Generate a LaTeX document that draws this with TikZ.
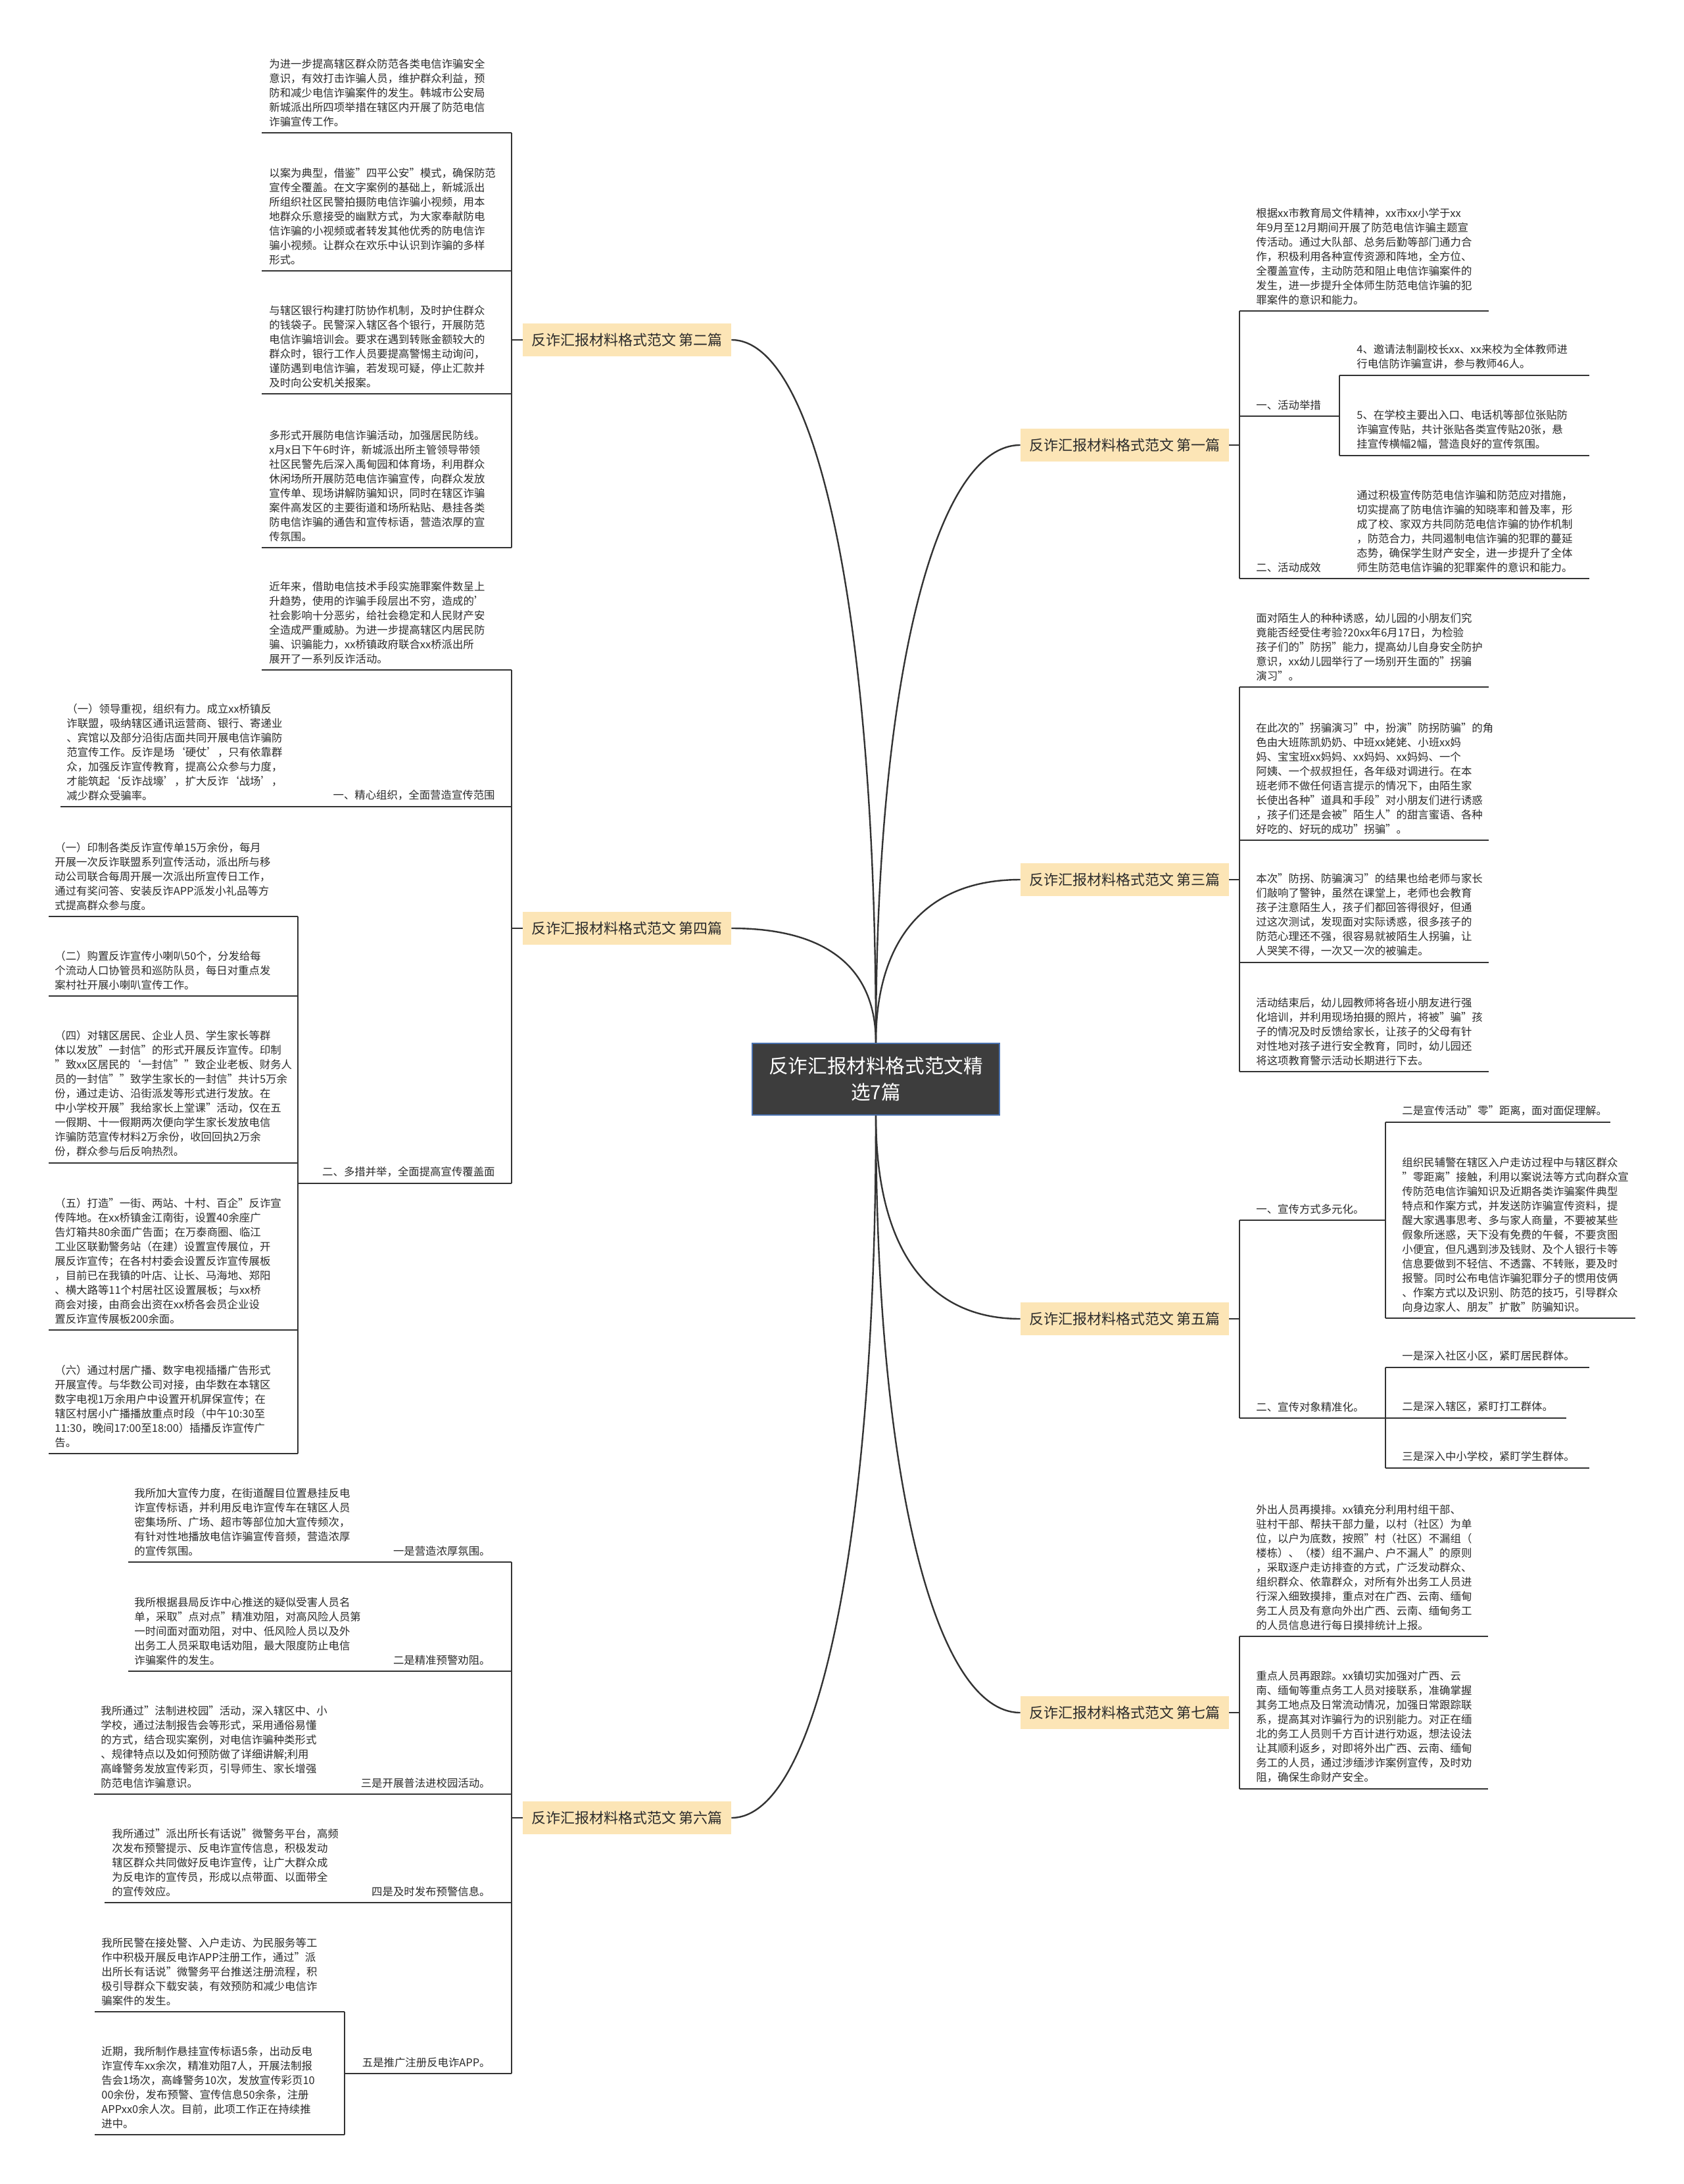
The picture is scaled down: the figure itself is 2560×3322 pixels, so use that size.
\documentclass[tikz,border=0pt]{standalone}
\usepackage{fontspec}
\setmainfont{Noto Sans CJK SC}
\usetikzlibrary{calc}
\definecolor{linec}{HTML}{333333}
\definecolor{txt}{HTML}{2B2B2B}
\definecolor{mainfill}{HTML}{FCE5B6}
\definecolor{rootfill}{HTML}{3D3D3D}
\definecolor{rootedge}{HTML}{4A72B0}
\begin{document}
\begin{tikzpicture}[x=0.5pt,y=-0.5pt,
 leaf/.style={align=left, inner sep=0pt, anchor=south west, font=\fontsize{8.2}{11}\selectfont, text=txt},
 leafr/.style={align=right, inner sep=0pt, anchor=south east, font=\fontsize{8.2}{11}\selectfont, text=txt},
 mainnode/.style={fill=mainfill, draw=none, minimum width=158.5pt, minimum height=25pt, inner sep=0pt, font=\fontsize{11}{13}\selectfont, text=txt},
 root/.style={fill=rootfill, draw=rootedge, line width=0.8pt, minimum width=188pt, minimum height=54.5pt, inner sep=0pt, text=white, align=center, font=\fontsize{14.8}{20}\selectfont},
 conn/.style={draw=linec, line width=1.2pt},
 tree/.style={draw=linec, line width=1pt},
]
\useasboundingbox[fill=white] (0,0) rectangle (2560,3322);

% root
\node[root] (root) at (1332,1641.5) {反诈汇报材料格式范文精\\选7篇};

% main branches
\node[mainnode] (n1) at (1710.5,677) {反诈汇报材料格式范文 第一篇};
\node[mainnode] (n2) at (953.5,517) {反诈汇报材料格式范文 第二篇};
\node[mainnode] (n3) at (1710.5,1338) {反诈汇报材料格式范文 第三篇};
\node[mainnode] (n4) at (953.5,1412) {反诈汇报材料格式范文 第四篇};
\node[mainnode] (n5) at (1710.5,2006) {反诈汇报材料格式范文 第五篇};
\node[mainnode] (n6) at (953.5,2765) {反诈汇报材料格式范文 第六篇};
\node[mainnode] (n7) at (1710.5,2605) {反诈汇报材料格式范文 第七篇};

\draw[conn] (n2.east) .. controls ($(n2.east)+(130,0)$) and ($(root.north)+(0,-650)$) .. (root.north);
\draw[conn] (n4.east) .. controls ($(n4.east)+(150,0)$) and ($(root.north)+(0,-110)$) .. (root.north);
\draw[conn] (n6.east) .. controls ($(n6.east)+(130,0)$) and ($(root.south)+(0,650)$) .. (root.south);
\draw[conn] (root.north) .. controls ($(root.north)+(0,-550)$) and ($(n1.west)+(-130,0)$) .. (n1.west);
\draw[conn] (root.north) .. controls ($(root.north)+(0,-150)$) and ($(n3.west)+(-150,0)$) .. (n3.west);
\draw[conn] (root.south) .. controls ($(root.south)+(0,190)$) and ($(n5.west)+(-150,0)$) .. (n5.west);
\draw[conn] (root.south) .. controls ($(root.south)+(0,550)$) and ($(n7.west)+(-130,0)$) .. (n7.west);

% ================= 第二篇 =================
\draw[tree] (n2.west) -- (778,517);
\draw[tree] (778,202) -- (778,833);
\foreach \yy in {202,412,599,833} \draw[tree] (398,\yy) -- (778,\yy);
\node[leaf] (a1) at (409,193) {为进一步提高辖区群众防范各类电信诈骗安全\\意识，有效打击诈骗人员，维护群众利益，预\\防和减少电信诈骗案件的发生。韩城市公安局\\新城派出所四项举措在辖区内开展了防范电信\\诈骗宣传工作。};
\node[leaf] (a2) at (409,403) {以案为典型，借鉴"四平公安"模式，确保防范\\宣传全覆盖。在文字案例的基础上，新城派出\\所组织社区民警拍摄防电信诈骗小视频，用本\\地群众乐意接受的幽默方式，为大家奉献防电\\信诈骗的小视频或者转发其他优秀的防电信诈\\骗小视频。让群众在欢乐中认识到诈骗的多样\\形式。};
\node[leaf] (a3) at (409,590) {与辖区银行构建打防协作机制，及时护住群众\\的钱袋子。民警深入辖区各个银行，开展防范\\电信诈骗培训会。要求在遇到转账金额较大的\\群众时，银行工作人员要提高警惕主动询问，\\谨防遇到电信诈骗，若发现可疑，停止汇款并\\及时向公安机关报案。};
\node[leaf] (a4) at (409,824) {多形式开展防电信诈骗活动，加强居民防线。\\x月x日下午6时许，新城派出所主管领导带领\\社区民警先后深入禹甸园和体育场，利用群众\\休闲场所开展防范电信诈骗宣传，向群众发放\\宣传单、现场讲解防骗知识，同时在辖区诈骗\\案件高发区的主要街道和场所粘贴、悬挂各类\\防电信诈骗的通告和宣传标语，营造浓厚的宣\\传氛围。};

% ================= 第四篇 =================
\draw[tree] (n4.west) -- (778,1412);
\draw[tree] (778,1019) -- (778,1800);
\draw[tree] (398,1019) -- (778,1019);
\draw[tree] (92,1227) -- (778,1227);
\draw[tree] (453,1800) -- (778,1800);
\draw[tree] (453,1394) -- (453,2211);
\foreach \yy in {1394,1515,1769,2023,2211} \draw[tree] (74,\yy) -- (453,\yy);
\node[leaf] (b1) at (409,1010) {近年来，借助电信技术手段实施罪案件数呈上\\升趋势，使用的诈骗手段层出不穷，造成的'\\社会影响十分恶劣，给社会稳定和人民财产安\\全造成严重威胁。为进一步提高辖区内居民防\\骗、识骗能力，xx桥镇政府联合xx桥派出所\\展开了一系列反诈活动。};
\node[leafr] (b2) at (753,1218) {一、精心组织，全面营造宣传范围};
\node[leaf] (b2c) at (101,1218) {（一）领导重视，组织有力。成立xx桥镇反\\诈联盟，吸纳辖区通讯运营商、银行、寄递业\\、宾馆以及部分沿街店面共同开展电信诈骗防\\范宣传工作。反诈是场‘硬仗’，只有依靠群\\众，加强反诈宣传教育，提高公众参与力度，\\才能筑起‘反诈战壕’，扩大反诈‘战场’，\\减少群众受骗率。};
\node[leafr] (b3) at (753,1791) {二、多措并举，全面提高宣传覆盖面};
\node[leaf] (b31) at (83,1385) {（一）印制各类反诈宣传单15万余份，每月\\开展一次反诈联盟系列宣传活动，派出所与移\\动公司联合每周开展一次派出所宣传日工作，\\通过有奖问答、安装反诈APP派发小礼品等方\\式提高群众参与度。};
\node[leaf] (b32) at (83,1506) {（二）购置反诈宣传小喇叭50个，分发给每\\个流动人口协管员和巡防队员，每日对重点发\\案村社开展小喇叭宣传工作。};
\node[leaf] (b33) at (83,1760) {（四）对辖区居民、企业人员、学生家长等群\\体以发放"一封信"的形式开展反诈宣传。印制\\"致xx区居民的`一封信""致企业老板、财务人\\员的一封信""致学生家长的一封信"共计5万余\\份，通过走访、沿街派发等形式进行发放。在\\中小学校开展"我给家长上堂课"活动，仅在五\\一假期、十一假期两次便向学生家长发放电信\\诈骗防范宣传材料2万余份，收回回执2万余\\份，群众参与后反响热烈。};
\node[leaf] (b34) at (83,2014) {（五）打造"一街、两站、十村、百企"反诈宣\\传阵地。在xx桥镇金江南街，设置40余座广\\告灯箱共80余面广告面；在万泰商圈、临江\\工业区联勤警务站（在建）设置宣传展位，开\\展反诈宣传；在各村村委会设置反诈宣传展板\\，目前已在我镇的叶店、让长、马海地、郑阳\\、横大路等11个村居社区设置展板；与xx桥\\商会对接，由商会出资在xx桥各会员企业设\\置反诈宣传展板200余面。};
\node[leaf] (b35) at (83,2202) {（六）通过村居广播、数字电视插播广告形式\\开展宣传。与华数公司对接，由华数在本辖区\\数字电视1万余用户中设置开机屏保宣传；在\\辖区村居小广播播放重点时段（中午10:30至\\11:30，晚间17:00至18:00）插播反诈宣传广\\告。};

% ================= 第六篇 =================
\draw[tree] (n6.west) -- (778,2765);
\draw[tree] (778,2376) -- (778,3154);
\draw[tree] (195,2376) -- (778,2376);
\draw[tree] (195,2542) -- (778,2542);
\draw[tree] (143,2729) -- (778,2729);
\draw[tree] (159,2894) -- (778,2894);
\draw[tree] (524,3154) -- (778,3154);
\draw[tree] (524,3060) -- (524,3247);
\draw[tree] (144,3060) -- (524,3060);
\draw[tree] (144,3247) -- (524,3247);
\node[leafr] (c1) at (746,2367) {一是营造浓厚氛围。};
\node[leaf] (c1c) at (204,2367) {我所加大宣传力度，在街道醒目位置悬挂反电\\诈宣传标语，并利用反电诈宣传车在辖区人员\\密集场所、广场、超市等部位加大宣传频次，\\有针对性地播放电信诈骗宣传音频，营造浓厚\\的宣传氛围。};
\node[leafr] (c2) at (746,2533) {二是精准预警劝阻。};
\node[leaf] (c2c) at (204,2533) {我所根据县局反诈中心推送的疑似受害人员名\\单，采取"点对点"精准劝阻，对高风险人员第\\一时间面对面劝阻，对中、低风险人员以及外\\出务工人员采取电话劝阻，最大限度防止电信\\诈骗案件的发生。};
\node[leafr] (c3) at (746,2720) {三是开展普法进校园活动。};
\node[leaf] (c3c) at (153,2720) {我所通过"法制进校园"活动，深入辖区中、小\\学校，通过法制报告会等形式，采用通俗易懂\\的方式，结合现实案例，对电信诈骗种类形式\\、规律特点以及如何预防做了详细讲解;利用\\高峰警务发放宣传彩页，引导师生、家长增强\\防范电信诈骗意识。};
\node[leafr] (c4) at (746,2885) {四是及时发布预警信息。};
\node[leaf] (c4c) at (170,2885) {我所通过"派出所长有话说"微警务平台，高频\\次发布预警提示、反电诈宣传信息，积极发动\\辖区群众共同做好反电诈宣传，让广大群众成\\为反电诈的宣传员，形成以点带面、以面带全\\的宣传效应。};
\node[leafr] (c5) at (746,3145) {五是推广注册反电诈APP。};
\node[leaf] (c51) at (154,3051) {我所民警在接处警、入户走访、为民服务等工\\作中积极开展反电诈APP注册工作，通过"派\\出所长有话说"微警务平台推送注册流程，积\\极引导群众下载安装，有效预防和减少电信诈\\骗案件的发生。};
\node[leaf] (c52) at (154,3238) {近期，我所制作悬挂宣传标语5条，出动反电\\诈宣传车xx余次，精准劝阻7人，开展法制报\\告会1场次，高峰警务10次，发放宣传彩页10\\00余份，发布预警、宣传信息50余条，注册\\APPxx0余人次。目前，此项工作正在持续推\\进中。};

% ================= 第一篇 =================
\draw[tree] (n1.east) -- (1885,677);
\draw[tree] (1885,473) -- (1885,880);
\draw[tree] (1885,473) -- (2264,473);
\draw[tree] (1885,633) -- (2037,633);
\draw[tree] (2037,571) -- (2037,693);
\draw[tree] (2037,571) -- (2417,571);
\draw[tree] (2037,693) -- (2417,693);
\draw[tree] (1885,880) -- (2417,880);
\node[leaf] (d1) at (1910,464) {根据xx市教育局文件精神，xx市xx小学于xx\\年9月至12月期间开展了防范电信诈骗主题宣\\传活动。通过大队部、总务后勤等部门通力合\\作，积极利用各种宣传资源和阵地，全方位、\\全覆盖宣传，主动防范和阻止电信诈骗案件的\\发生，进一步提升全体师生防范电信诈骗的犯\\罪案件的意识和能力。};
\node[leaf] (d2) at (1910,624) {一、活动举措};
\node[leaf] (d21) at (2063,562) {4、邀请法制副校长xx、xx来校为全体教师进\\行电信防诈骗宣讲，参与教师46人。};
\node[leaf] (d22) at (2063,684) {5、在学校主要出入口、电话机等部位张贴防\\诈骗宣传贴，共计张贴各类宣传贴20张，悬\\挂宣传横幅2幅，营造良好的宣传氛围。};
\node[leaf] (d3) at (1910,871) {二、活动成效};
\node[leaf] (d3c) at (2063,871) {通过积极宣传防范电信诈骗和防范应对措施，\\切实提高了防电信诈骗的知晓率和普及率，形\\成了校、家双方共同防范电信诈骗的协作机制\\，防范合力，共同遏制电信诈骗的犯罪的蔓延\\态势，确保学生财产安全，进一步提升了全体\\师生防范电信诈骗的犯罪案件的意识和能力。};

% ================= 第三篇 =================
\draw[tree] (n3.east) -- (1885,1338);
\draw[tree] (1885,1045) -- (1885,1630);
\foreach \yy in {1045,1278,1464,1630} \draw[tree] (1885,\yy) -- (2264,\yy);
\node[leaf] (e1) at (1910,1036) {面对陌生人的种种诱惑，幼儿园的小朋友们究\\竟能否经受住考验?20xx年6月17日，为检验\\孩子们的"防拐"能力，提高幼儿自身安全防护\\意识，xx幼儿园举行了一场别开生面的"拐骗\\演习"。};
\node[leaf] (e2) at (1910,1269) {在此次的"拐骗演习"中，扮演"防拐防骗"的角\\色由大班陈凯奶奶、中班xx姥姥、小班xx妈\\妈、宝宝班xx妈妈、xx妈妈、xx妈妈、一个\\阿姨、一个叔叔担任，各年级对调进行。在本\\班老师不做任何语言提示的情况下，由陌生家\\长使出各种"道具和手段"对小朋友们进行诱惑\\，孩子们还是会被"陌生人"的甜言蜜语、各种\\好吃的、好玩的成功"拐骗"。};
\node[leaf] (e3) at (1910,1455) {本次"防拐、防骗演习"的结果也给老师与家长\\们敲响了警钟，虽然在课堂上，老师也会教育\\孩子注意陌生人，孩子们都回答得很好，但通\\过这次测试，发现面对实际诱惑，很多孩子的\\防范心理还不强，很容易就被陌生人拐骗，让\\人哭笑不得，一次又一次的被骗走。};
\node[leaf] (e4) at (1910,1621) {活动结束后，幼儿园教师将各班小朋友进行强\\化培训，并利用现场拍摄的照片，将被"骗"孩\\子的情况及时反馈给家长，让孩子的父母有针\\对性地对孩子进行安全教育，同时，幼儿园还\\将这项教育警示活动长期进行下去。};

% ================= 第五篇 =================
\draw[tree] (n5.east) -- (1885,2006);
\draw[tree] (1885,1856) -- (1885,2157);
\draw[tree] (1885,1856) -- (2107,1856);
\draw[tree] (2107,1707) -- (2107,2005);
\draw[tree] (2107,1707) -- (2449,1707);
\draw[tree] (2107,2005) -- (2487,2005);
\draw[tree] (1885,2157) -- (2107,2157);
\draw[tree] (2107,2080) -- (2107,2233);
\draw[tree] (2107,2080) -- (2417,2080);
\draw[tree] (2107,2157) -- (2382,2157);
\draw[tree] (2107,2233) -- (2417,2233);
\node[leaf] (f1) at (1910,1847) {一、宣传方式多元化。};
\node[leaf] (f11) at (2132,1698) {二是宣传活动"零"距离，面对面促理解。};
\node[leaf] (f12) at (2132,1996) {组织民辅警在辖区入户走访过程中与辖区群众\\"零距离"接触，利用以案说法等方式向群众宣\\传防范电信诈骗知识及近期各类诈骗案件典型\\特点和作案方式，并发送防诈骗宣传资料，提\\醒大家遇事思考、多与家人商量，不要被某些\\假象所迷惑，天下没有免费的午餐，不要贪图\\小便宜，但凡遇到涉及钱财、及个人银行卡等\\信息要做到不轻信、不透露、不转账，要及时\\报警。同时公布电信诈骗犯罪分子的惯用伎俩\\、作案方式以及识别、防范的技巧，引导群众\\向身边家人、朋友"扩散"防骗知识。};
\node[leaf] (f2) at (1910,2148) {二、宣传对象精准化。};
\node[leaf] (f21) at (2132,2071) {一是深入社区小区，紧盯居民群体。};
\node[leaf] (f22) at (2132,2148) {二是深入辖区，紧盯打工群体。};
\node[leaf] (f23) at (2132,2224) {三是深入中小学校，紧盯学生群体。};

% ================= 第七篇 =================
\draw[tree] (n7.east) -- (1885,2605);
\draw[tree] (1885,2489) -- (1885,2721);
\draw[tree] (1885,2489) -- (2263,2489);
\draw[tree] (1885,2721) -- (2263,2721);
\node[leaf] (g1) at (1910,2480) {外出人员再摸排。xx镇充分利用村组干部、\\驻村干部、帮扶干部力量，以村（社区）为单\\位，以户为底数，按照"村（社区）不漏组（\\楼栋）、（楼）组不漏户、户不漏人"的原则\\，采取逐户走访排查的方式，广泛发动群众、\\组织群众、依靠群众，对所有外出务工人员进\\行深入细致摸排，重点对在广西、云南、缅甸\\务工人员及有意向外出广西、云南、缅甸务工\\的人员信息进行每日摸排统计上报。};
\node[leaf] (g2) at (1910,2712) {重点人员再跟踪。xx镇切实加强对广西、云\\南、缅甸等重点务工人员对接联系，准确掌握\\其务工地点及日常流动情况，加强日常跟踪联\\系，提高其对诈骗行为的识别能力。对正在缅\\北的务工人员则千方百计进行劝返，想法设法\\让其顺利返乡，对即将外出广西、云南、缅甸\\务工的人员，通过涉缅涉诈案例宣传，及时劝\\阻，确保生命财产安全。};
\end{tikzpicture}
\end{document}
